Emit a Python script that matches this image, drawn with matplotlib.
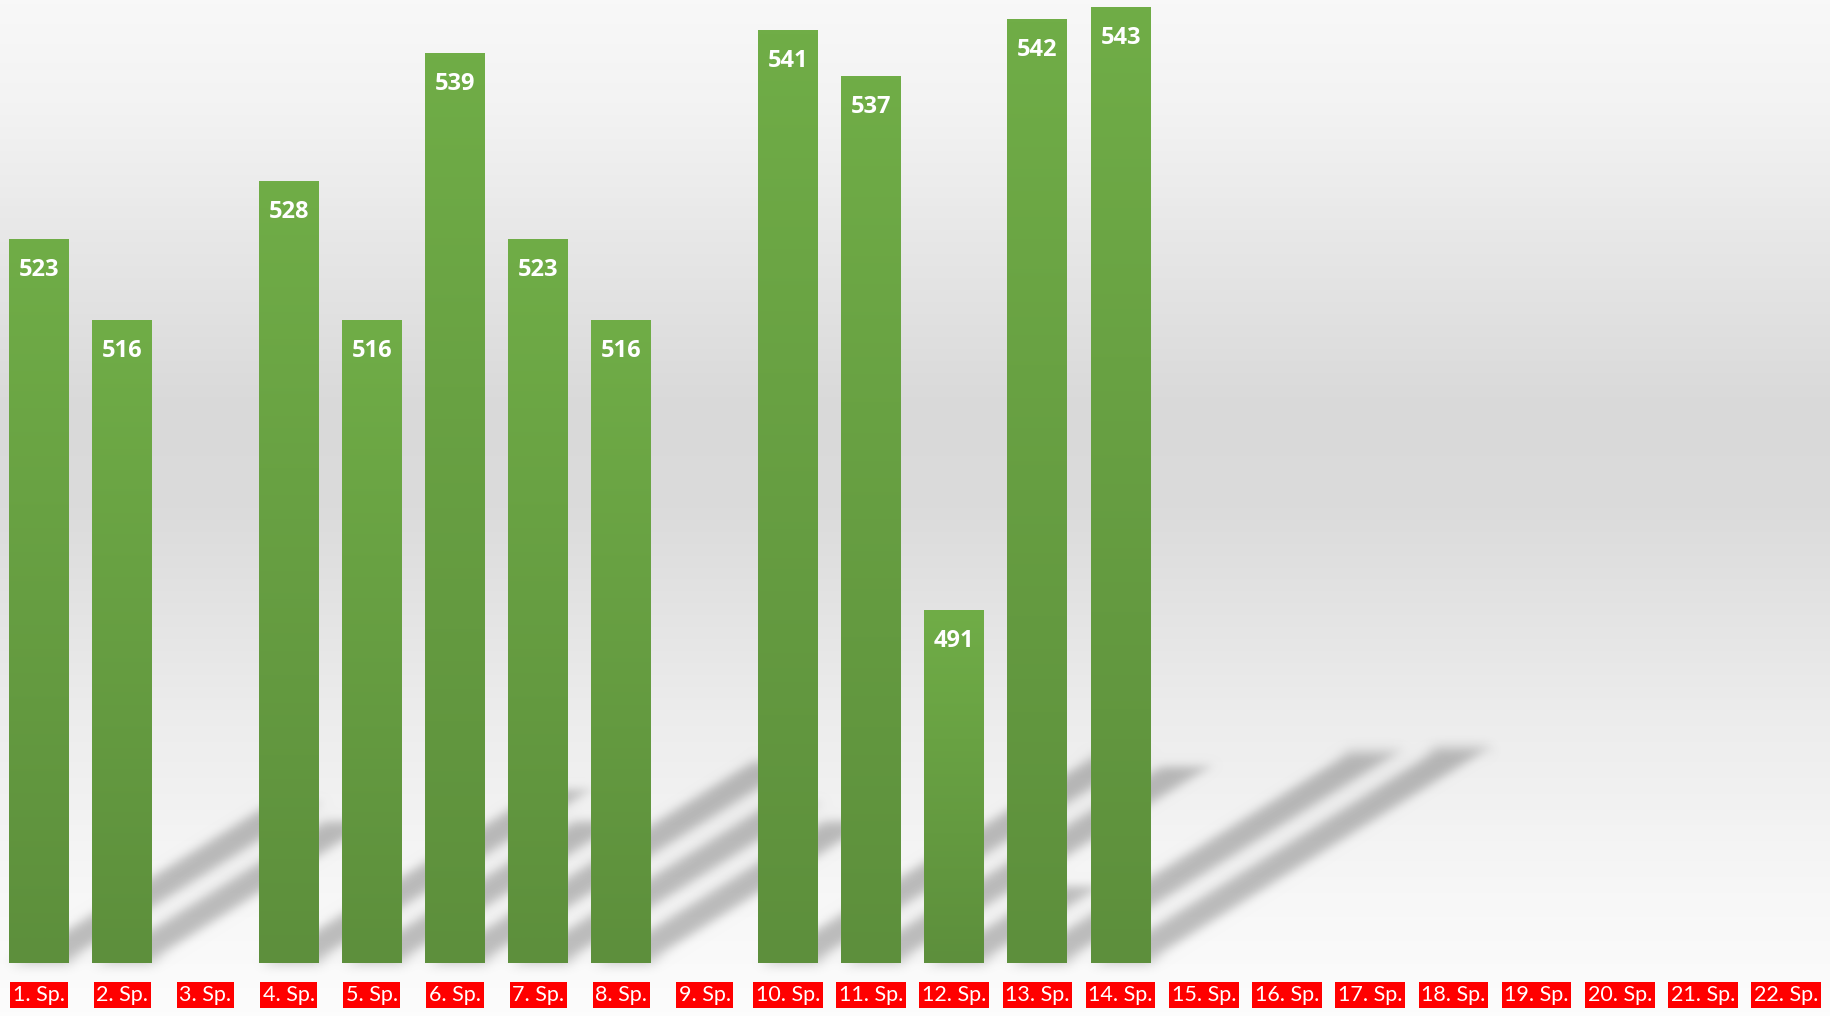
import numpy as np
import matplotlib
matplotlib.use('Agg')
import matplotlib.pyplot as plt
from matplotlib.colors import LinearSegmentedColormap
from matplotlib.collections import PolyCollection

# daten
spieltage = ['1. Sp.', '2. Sp.', '3. Sp.', '4. Sp.', '5. Sp.', '6. Sp.', '7. Sp.', '8. Sp.',
             '9. Sp.', '10. Sp.', '11. Sp.', '12. Sp.', '13. Sp.', '14. Sp.', '15. Sp.',
             '16. Sp.', '17. Sp.', '18. Sp.', '19. Sp.', '20. Sp.', '21. Sp.', '22. Sp.']
punkte = [523, 516, np.nan, 528, 516, 539, 523, 516, np.nan, 541, 537, 491, 542, 543,
          np.nan, np.nan, np.nan, np.nan, np.nan, np.nan, np.nan, np.nan]

y_min, y_max = 460.5, 543.6

plt.rcParams['font.family'] = ['Lato', 'DejaVu Sans']


def blur(im, dpi):
    # einfacher gauss-weichzeichner fuer die schatten
    pad = 16
    sigma = 4.5
    a = np.pad(im, ((pad, pad), (pad, pad), (0, 0)))
    r = np.arange(-pad, pad + 1)
    k = np.exp(-r ** 2 / (2 * sigma ** 2))
    k /= k.sum()
    tmp = np.zeros_like(a)
    for j, kj in zip(r, k):
        tmp += kj * np.roll(a, j, axis=0)
    out = np.zeros_like(a)
    for j, kj in zip(r, k):
        out += kj * np.roll(tmp, j, axis=1)
    return out, -pad, -pad


fig = plt.figure(figsize=(18.3, 10.16), dpi=100)

# hintergrund-verlauf
bg = fig.add_axes([0, 0, 1, 1], zorder=0)
bg.axis('off')
bg_cmap = LinearSegmentedColormap.from_list('bg', [
    (0.0, '#F8F8F8'), (0.1, '#F3F3F3'), (0.4, '#D9D9D9'), (0.5, '#DBDBDB'),
    (0.7, '#ECECEC'), (0.88, '#F7F7F7'), (1.0, '#FCFCFC')])
bg.imshow(np.linspace(0, 1, 256).reshape(-1, 1), aspect='auto', cmap=bg_cmap,
          extent=(0, 1, 0, 1))

ax = fig.add_axes([0, 53 / 1016, 1, 963 / 1016], zorder=1)
ax.patch.set_alpha(0)
for s in ax.spines.values():
    s.set_visible(False)

x = np.arange(len(spieltage))
x0 = -39 / 83.2
ax.set_xlim(x0, x0 + 1830 / 83.2)
ax.set_ylim(y_min, y_max)

width = 0.72
bars = ax.bar(x, punkte, width=width, color='#66A042', zorder=3)

# schatten (schraeg nach rechts oben)
p0 = ax.transData.transform((0, y_min))
p1 = ax.transData.transform((1, y_min + 1))
ppu_x = p1[0] - p0[0]
ppu_y = p1[1] - p0[1]
polys = []
for xi, v in zip(x, punkte):
    if np.isnan(v):
        continue
    h_px = (v - y_min) * ppu_y
    dx = 0.36 * h_px / ppu_x
    dy = 0.225 * h_px / ppu_y
    polys.append([(xi - width / 2, y_min), (xi + width / 2, y_min),
                  (xi + width / 2 + dx, y_min + dy), (xi - width / 2 + dx, y_min + dy)])
shadow = PolyCollection(polys, facecolors=(0, 0, 0, 0.25), edgecolors='none', zorder=2)
shadow.set_agg_filter(blur)
ax.add_collection(shadow)

# balken mit verlauf
bar_cmap = LinearSegmentedColormap.from_list('bar', ['#5D8F3C', '#70AD47'])
grad = np.linspace(1, 0, 256).reshape(-1, 1)
for b, v in zip(bars, punkte):
    if np.isnan(v):
        continue
    im = ax.imshow(grad, aspect='auto', cmap=bar_cmap, vmin=0, vmax=1,
                   extent=(b.get_x(), b.get_x() + b.get_width(), y_min, v), zorder=4)
    im.set_clip_path(b)

for xi, v in zip(x, punkte):
    if np.isnan(v):
        continue
    ax.annotate(f'{v:.0f}', xy=(xi, v), xytext=(0, -31), textcoords='offset pixels',
                ha='center', va='center', color='white', fontsize=17,
                fontweight='bold', family=['Open Sans', 'DejaVu Sans'], zorder=5)

ax.set_xlim(x0, x0 + 1830 / 83.2)
ax.set_ylim(y_min, y_max)
ax.set_yticks([])
ax.set_xticks(x, spieltage)
ax.tick_params(axis='x', length=0, pad=23, labelsize=15.5, labelcolor='white')
for t in ax.get_xticklabels():
    t.set_va('center')
    t.set_bbox(dict(boxstyle='square,pad=0.12', fc='#FF0000', ec='none'))

plt.savefig('out.png', dpi=100)
